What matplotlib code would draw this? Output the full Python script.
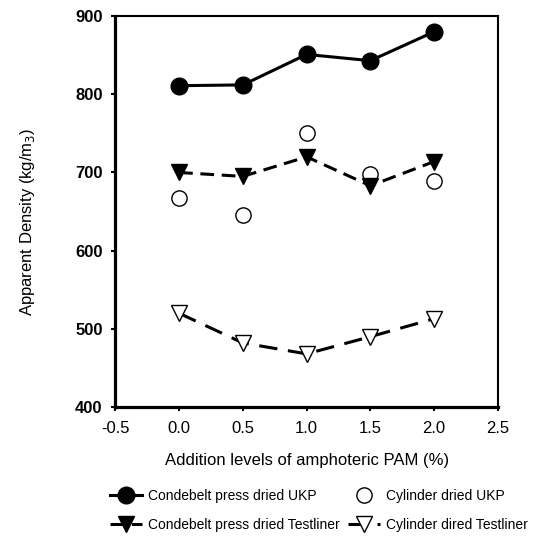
import matplotlib

matplotlib.use("Agg")
import matplotlib.pyplot as plt  # noqa: E402

plt.rcParams["font.family"] = ["Liberation Sans", "DejaVu Sans"]

pam = [0.0, 0.5, 1.0, 1.5, 2.0]
condebelt_ukp = [811, 812, 851, 843, 880]
cylinder_ukp = [668, 646, 750, 698, 689]
condebelt_testliner = [700, 695, 720, 683, 714]
cylinder_testliner = [520, 482, 468, 490, 513]

xticks = [-0.5, 0.0, 0.5, 1.0, 1.5, 2.0, 2.5]
yticks = [400, 500, 600, 700, 800, 900]

fig = plt.figure(figsize=(5.36, 5.37), dpi=100)
ax = fig.add_axes([0.215, 0.242, 0.714, 0.728])

h1, = ax.plot(pam, condebelt_ukp, "-o", color="black", lw=2.2, ms=12,
              label="Condebelt press dried UKP")
h2, = ax.plot(pam, cylinder_ukp, "o", mfc="white", mec="black", mew=1, ms=11,
              label="Cylinder dried UKP")
h3, = ax.plot(pam, condebelt_testliner, "v", ls=(0, (4.5, 2.5)), color="black",
              lw=2.2, ms=11, label="Condebelt press dried Testliner")
h4, = ax.plot(pam, cylinder_testliner, "v", ls=(0, (6, 3.5)), color="black",
              lw=2.2, ms=11, mfc="white", mec="black", mew=1,
              label="Cylinder dired Testliner")

ax.set_xlim(-0.5, 2.5)
ax.set_ylim(400, 900)
ax.set_xticks(xticks)
ax.set_xticklabels([f"{t:.1f}" for t in xticks])
ax.set_yticks(yticks)
ax.set_yticklabels([str(t) for t in yticks], fontweight="bold")
ax.tick_params(direction="out", length=3, width=1.5, labelsize=12)
ax.tick_params(axis="x", pad=7)
ax.tick_params(axis="y", pad=6)
ax.spines["left"].set_linewidth(2.3)
ax.spines["bottom"].set_linewidth(2.3)
ax.spines["top"].set_linewidth(1.5)
ax.spines["right"].set_linewidth(1.5)
ax.set_xlabel("Addition levels of amphoteric PAM (%)", fontsize=12, labelpad=12)
ax.set_ylabel("Apparent Density (kg/m$_3$)", fontsize=12)
ax.yaxis.set_label_coords(-0.205, 0.475)

common = dict(loc="upper left", frameon=False, fontsize=10, handlelength=2.3,
              handletextpad=0.45, labelspacing=1.05, borderpad=0, borderaxespad=0)
fig.legend(handles=[h1, h3], bbox_to_anchor=(110 / 536, 1 - 489 / 537), **common)
fig.legend(handles=[h2, h4], bbox_to_anchor=(348 / 536, 1 - 489 / 537), **common)

fig.savefig("out.png", dpi=100)
